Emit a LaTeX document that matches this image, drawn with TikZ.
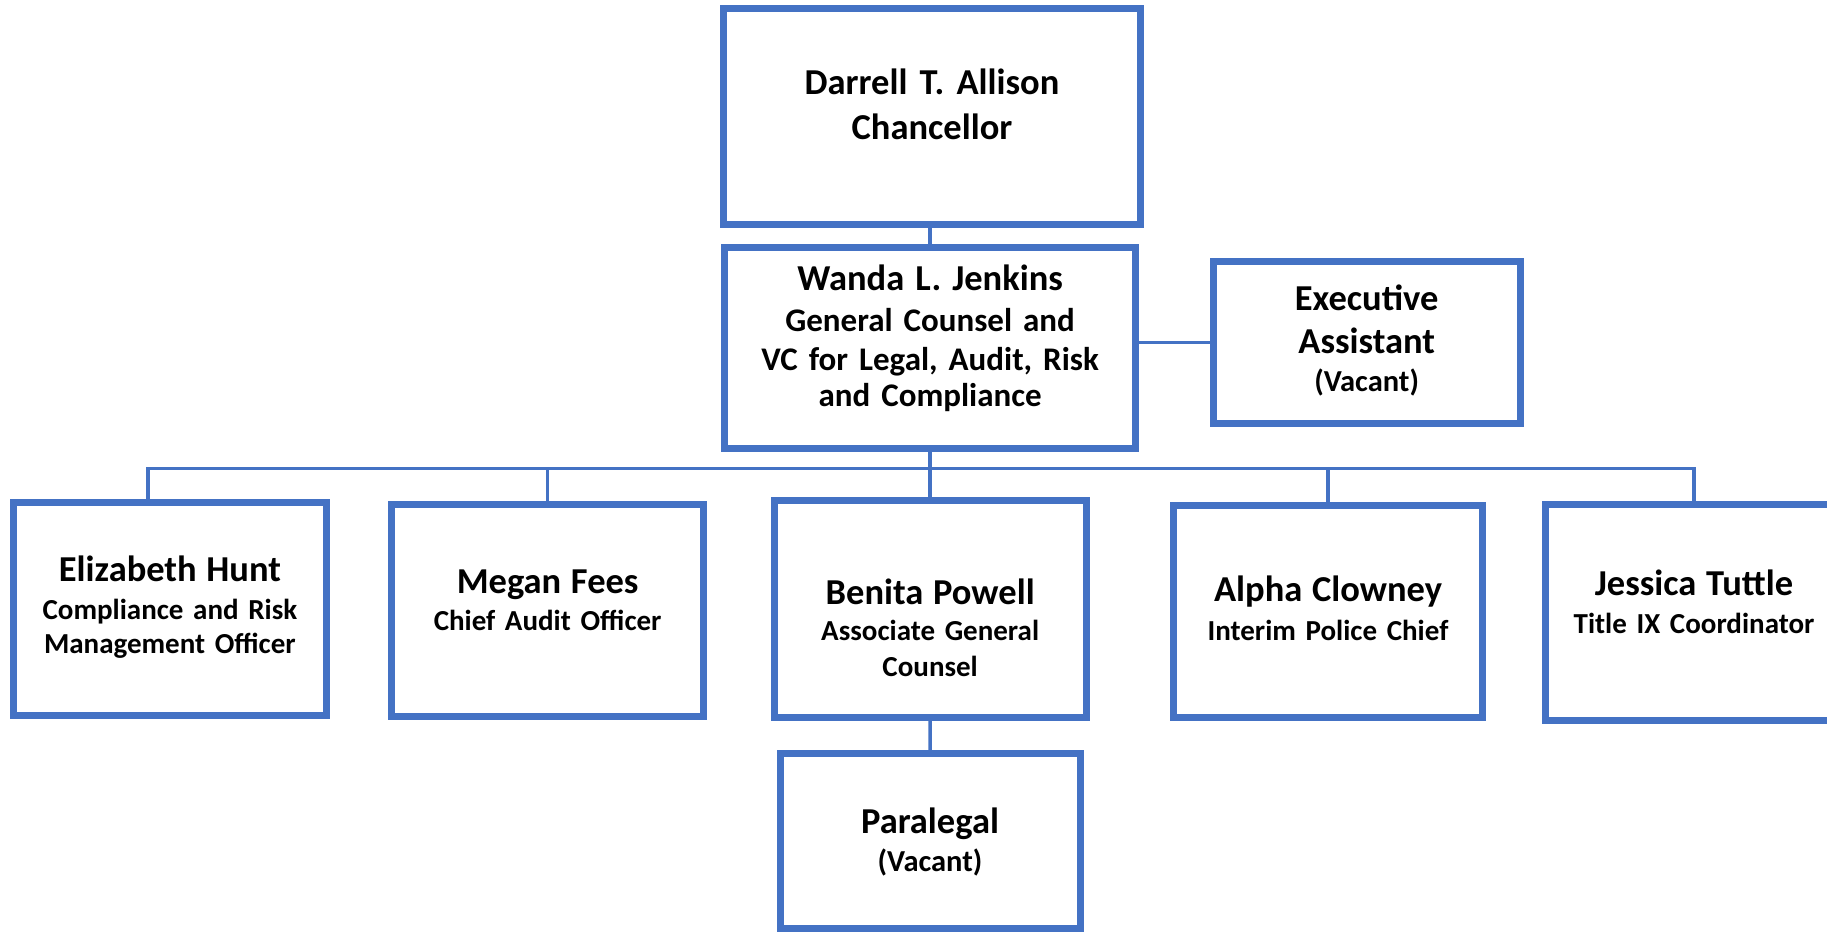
\documentclass[tikz,border=0pt]{standalone}
\usepackage{fontspec}
\setmainfont{Carlito}
\frenchspacing
\definecolor{orgblue}{HTML}{4472C4}

\newcommand{\namefont}{\fontsize{36.5pt}{37.5pt}\selectfont}
\newcommand{\subfont}{\fontsize{29pt}{37.5pt}\selectfont}
\newcommand{\vacfont}{\fontsize{30.5pt}{37.5pt}\selectfont}

\begin{document}
\begin{tikzpicture}[x=1pt, y=-1pt, line join=miter]

\tikzset{
  orgbox/.style={rectangle, draw=orgblue, line width=7pt, fill=white,
    inner sep=0pt, align=center, text height=0pt, font=\bfseries\subfont},
  boxsize/.style 2 args={minimum width=#1, minimum height=#2, text width=#1-24pt},
  firstbase/.style={text depth=#1},
  link/.style={draw=orgblue, line width=3.5pt}
}

% ----------------------------
% PAGE
% ----------------------------
\path[use as bounding box, clip] (0,0) rectangle (1827,933);

% ----------------------------
% TOP LEVEL
% ----------------------------
\node[orgbox, boxsize={417pt}{216pt}, firstbase=44.4pt,
  font=\bfseries\fontsize{36.5pt}{45pt}\selectfont] (chancellor) at (932,116.5)
  {Darrell T. Allison\\Chancellor};

\node[orgbox, boxsize={410.8pt}{200.7pt}, firstbase=115.3pt,
  font=\bfseries\fontsize{33pt}{37.5pt}\selectfont] (wanda) at (930.1,347.65)
  {{\namefont Wanda L. Jenkins}\\[4pt]General Counsel and\\[1pt]VC for Legal, Audit, Risk\\[-1pt]and Compliance};

\node[orgbox, boxsize={307.3pt}{161.3pt}, firstbase=63.3pt,
  font=\bfseries\fontsize{36.5pt}{42.6pt}\selectfont] (assistant) at (1366.65,342.35)
  {Executive\\Assistant\\[-4.2pt]{\vacfont (Vacant)}};

% ----------------------------
% DIRECT REPORTS
% ----------------------------
\node[orgbox, boxsize={312.2pt}{212.5pt}, firstbase=54.5pt] (hunt) at (169.9,608.95)
  {{\namefont Elizabeth Hunt}\\Compliance and Risk\\[-2.8pt]Management Officer};

\node[orgbox, boxsize={311.7pt}{212.8pt}, firstbase=34.2pt] (fees) at (547.65,610.4)
  {{\namefont Megan Fees}\\Chief Audit Officer};

\node[orgbox, boxsize={311.7pt}{216.6pt}, firstbase=10pt] (powell) at (930.15,609)
  {{\namefont Benita Powell}\\[-0.8pt]Associate General\\[-1.5pt]Counsel};

\node[orgbox, boxsize={308.6pt}{212pt}, firstbase=20pt] (clowney) at (1328,611)
  {{\namefont Alpha Clowney}\\[1.5pt]Interim Police Chief};

\node[orgbox, boxsize={297.6pt}{216.7pt}, firstbase=34.7pt] (tuttle) at (1694,612.35)
  {{\namefont Jessica Tuttle}\\[0.5pt]Title IX Coordinator};

\node[orgbox, boxsize={300pt}{175.2pt}, firstbase=15.2pt,
  font=\bfseries\fontsize{36.5pt}{38.4pt}\selectfont] (paralegal) at (930,840.9)
  {Paralegal\\{\vacfont (Vacant)}};

% ----------------------------
% CONNECTORS
% ----------------------------
\coordinate (busw) at (148,468.7);
\coordinate (buse) at (tuttle.north |- busw);

\draw[link] (wanda.north) -- (wanda.north |- chancellor.south);
\draw[link] (wanda.east |- assistant.west) -- (assistant.west);
\draw[link] (wanda.south) -- (wanda.south |- busw);
\draw[link] (busw |- hunt.north) -- (busw) -- (buse) -- (tuttle.north);
\foreach \n in {fees,powell,clowney}
  \draw[link] (\n.north |- busw) -- (\n.north);
\draw[link] (powell.south) -- (paralegal.north);

\end{tikzpicture}
\end{document}
